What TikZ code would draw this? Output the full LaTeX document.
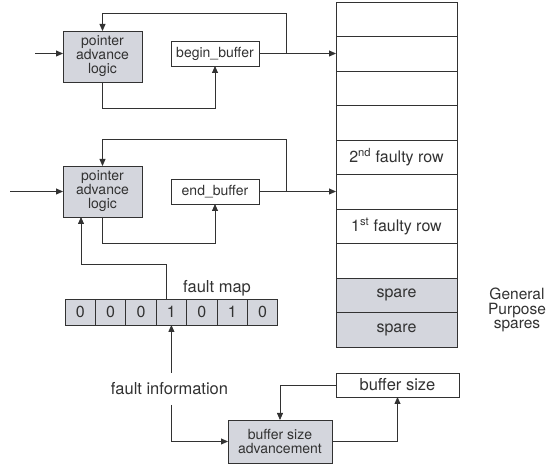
\documentclass[tikz,border=0pt]{standalone}
\usepackage{fontspec}
\setmainfont{TeX Gyre Heros}
\usetikzlibrary{arrows.meta,positioning}
\definecolor{boxgray}{RGB}{212,214,221}
\definecolor{ink}{RGB}{50,50,50}
\begin{document}
\begin{tikzpicture}[x=1pt,y=-1pt,
  every node/.style={inner sep=0pt,outer sep=0pt,text=ink},
  conn/.style={draw=ink,line width=0.8pt},
  arr/.style={conn,-{Triangle[length=7pt,width=6pt]}},
  logicbox/.style={draw=ink,line width=0.9pt,fill=boxgray,rectangle,align=center,
    font=\fontsize{14}{14}\selectfont},
  regbox/.style={draw=ink,line width=0.9pt,fill=white,rectangle,
    font=\fontsize{14}{14}\selectfont},
  memrow/.style={draw=ink,line width=0.9pt,fill=white,rectangle,minimum width=121pt,minimum height=34.5pt,
    font=\fontsize{16}{16}\selectfont},
  sparerow/.style={memrow,fill=boxgray},
  fmcell/.style={draw=ink,line width=0.9pt,fill=boxgray,rectangle,minimum width=30.4pt,minimum height=26pt,
    font=\fontsize{16}{16}\selectfont},
  lbl/.style={font=\fontsize{16.5}{16}\selectfont}
]
\useasboundingbox (0,0) rectangle (550,465);

% memory column
\node[memrow] (r0) at (396.5,19.25) {};
\node[memrow] (r1) at (396.5,53.75) {};
\node[memrow] (r2) at (396.5,88.25) {};
\node[memrow] (r3) at (396.5,122.75) {};
\node[memrow] (r4) at (396.5,157.25) {2\textsuperscript{nd} faulty row};
\node[memrow] (r5) at (396.5,191.75) {};
\node[memrow] (r6) at (396.5,226.25) {1\textsuperscript{st} faulty row};
\node[memrow] (r7) at (396.5,260.75) {};
\node[sparerow] (r8) at (396.5,295.25) {spare};
\node[sparerow] (r9) at (396.5,329.75) {spare};
\node[align=center,font=\fontsize{15.5}{14.5}\selectfont] (gps) at (517,310) {General\\Purpose\\spares};

% top pointer logic
\node[logicbox,minimum width=79pt,minimum height=51pt] (pal1) at (102.5,56.5) {pointer\\advance\\logic};
\node[regbox,minimum width=88pt,minimum height=25pt] (bb) at (215,53.5) {begin\_buffer};
\coordinate (in1) at (35,53.5);
\coordinate (fb1) at (286,13);
\draw[arr] (in1) -- (in1 -| pal1.west);
\draw[arr] (bb.east) -- (bb.east -| r1.west);
\draw[arr] (fb1 |- bb.east) -- (fb1) -| (pal1.north);
\draw[arr] (pal1.south) -- ++(0,26) -| (bb.south);

% second pointer logic
\node[logicbox,minimum width=79pt,minimum height=51pt] (pal2) at (102.5,191.5) {pointer\\advance\\logic};
\node[regbox,minimum width=88pt,minimum height=25pt] (eb) at (215,191.5) {end\_buffer};
\coordinate (in2) at (10,191.5);
\coordinate (fb2) at (286,139);
\draw[arr] (in2) -- (in2 -| pal2.west);
\draw[arr] (eb.east) -- (eb.east -| r5.west);
\draw[arr] (fb2 |- eb.east) -- (fb2) -| (pal2.north);
\draw[arr] (pal2.south) -- ++(0,26) -| (eb.south);

% fault map
\node[fmcell] (c0) at (80.2,312) {0};
\node[fmcell,right=0pt of c0] (c1) {0};
\node[fmcell,right=0pt of c1] (c2) {0};
\node[fmcell,right=0pt of c2] (c3) {1};
\node[fmcell,right=0pt of c3] (c4) {0};
\node[fmcell,right=0pt of c4] (c5) {1};
\node[fmcell,right=0pt of c5] (c6) {0};
\node[lbl] (fml) at (217,288) {fault map};
\draw[arr] ([xshift=-5pt]c3.north) -- ++(0,-35) -| ([xshift=-21.5pt]pal2.south);

% fault information
\node[lbl,inner sep=0pt,minimum height=32pt] (fi) at (169.5,389) {fault information};
\draw[arr] (c3.south |- fi.north) -- (c3.south);

% buffer size
\node[logicbox,minimum width=104pt,minimum height=43pt] (bsa) at (280,441.5) {buffer size\\advancement};
\node[regbox,minimum width=123pt,minimum height=24pt,font=\fontsize{16.5}{16}\selectfont] (bs) at (397.5,385) {buffer size};
\draw[arr] (c3.south |- fi.south) |- (bsa.west);
\draw[arr] (bs.west) -| (bsa.north);
\draw[arr] (bsa.east) -| (bs.south);
\end{tikzpicture}
\end{document}
